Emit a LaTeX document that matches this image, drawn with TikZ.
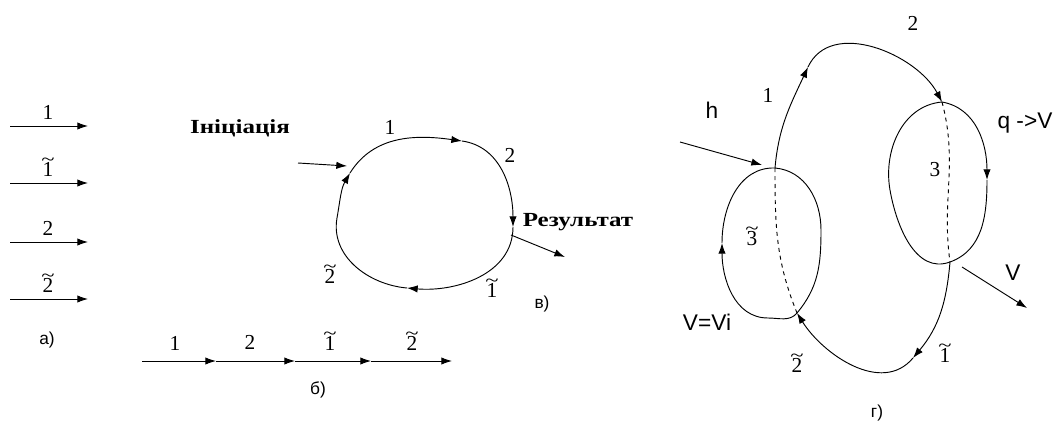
\documentclass[tikz,border=0pt]{standalone}
\usepackage{graphicx}
\usepackage{fontspec}
\setmainfont{Liberation Serif}
\setsansfont{Liberation Sans}
\usetikzlibrary{arrows.meta}

\newcommand{\tl}[1]{\leavevmode\ooalign{#1\cr\hidewidth\raisebox{0.5em}{\scalebox{1.15}[0.85]{\char"7E}}\hidewidth\cr}}
\newcommand{\wide}[1]{\scalebox{1.25}[1]{#1}}

\begin{document}
\begin{tikzpicture}[x=0.75pt, y=0.75pt,
    arr/.style={-{Latex[length=8pt,width=5.5pt]}, line width=0.7pt},
    ln/.style={line width=0.7pt},
    num/.style={font=\fontsize{16}{16}\selectfont, inner sep=0pt},
    partlbl/.style={font=\sffamily\fontsize{13}{13}\selectfont, inner sep=0pt},
    sans/.style={font=\sffamily\fontsize{17}{17}\selectfont, inner sep=0pt},
    word/.style={font=\bfseries\fontsize{15}{15}\selectfont, inner sep=0pt}]
    \useasboundingbox (0,0) rectangle (1064,430);

    % a) separate steps
    \foreach \i/\y/\t in {1/304/1, 2/247/\tl{1}, 3/188/2, 4/131/\tl{2}} {
        \coordinate (a\i s) at (10,\y);
        \coordinate (a\i e) at (88,\y);
        \draw[arr] (a\i s) -- (a\i e);
        \node[num, anchor=base] (a\i l) at (48,\y+7) {\t};
    }
    \node[partlbl] (capa) at (47,90) {а)};

    % b) chain
    \coordinate (b0) at (142,69);
    \coordinate (b1) at (216,69);
    \coordinate (b2) at (295,69);
    \coordinate (b3) at (371,69);
    \coordinate (b4) at (452,69);
    \draw[arr] (b0) -- (b1);
    \draw[arr] (b1) -- (b2);
    \draw[arr] (b2) -- (b3);
    \draw[arr] (b3) -- (b4);
    \node[num, anchor=base] (bl1) at (175,80) {1};
    \node[num, anchor=base] (bl2) at (250,81) {2};
    \node[num, anchor=base] (bl3) at (330,80) {\tl{1}};
    \node[num, anchor=base] (bl4) at (412,80) {\tl{2}};
    \node[partlbl] (capb) at (318,40) {б)};

    % v) cycle
    \coordinate (v1) at (350,257);
    \coordinate (v2) at (462,289);
    \coordinate (v3) at (513,203);
    \coordinate (v4) at (407,142);
    \coordinate (vin) at (298,267);
    \coordinate (vjn) at (347,264);
    \coordinate (vout) at (511,195);
    \coordinate (vres) at (565,173);
    \draw[arr] (v1) to[out=58, in=172] (v2);
    \draw[arr] (v2) to[out=-8, in=90] (v3);
    \draw[arr] (v3) to[out=-90, in=-5] (v4);
    \draw[arr] (v4) to[out=175, in=-100] (337,212) to[out=80, in=240] (v1);
    \draw[arr] (vin) -- (vjn);
    \draw[arr] (vout) -- (vres);
    \node[word] (init) at (240,302) {\wide{Ініціація}};
    \node[word] (res) at (578,208) {\wide{Результат}};
    \node[num] (vl1) at (390,303) {1};
    \node[num] (vl2) at (510,275) {2};
    \node[num] (vl3) at (492,140) {\tl{1}};
    \node[num] (vl4) at (330,154) {\tl{2}};
    \node[partlbl] (capv) at (542,126) {в)};

    % g) cycle with two loops
    \coordinate (ltop) at (775,262);
    \coordinate (lbot) at (797,117);
    \coordinate (rtop) at (942,328);
    \coordinate (rbot) at (950,168);
    \coordinate (g1) at (808,363);
    \coordinate (g3) at (913,72);
    \coordinate (larr) at (722,187);
    \coordinate (rarr) at (987,250);
    \coordinate (hin) at (680,288);
    \coordinate (hjn) at (762,265);
    \coordinate (vst) at (962,163);
    \coordinate (vend) at (1027,122);
    % big path
    \draw[arr] (ltop) to[out=85, in=245] (g1);
    \draw[arr] (g1) to[out=65, in=118] (rtop);
    \draw[arr] (rbot) to[out=-95, in=50] (g3);
    \draw[arr] (g3) to[out=-130, in=-58] (lbot);
    % right loop
    \draw[arr] (rtop) to[out=-10, in=90] (rarr);
    \draw[ln] (rarr) to[out=-90, in=20] (rbot)
        to[out=200, in=-80] (890,240) to[out=100, in=185] (rtop);
    \draw[ln, dashed] (rtop) to[out=-75, in=98] (rbot);
    % left loop
    \draw[ln] (ltop) to[out=-5, in=90] (821,200) to[out=-90, in=50] (lbot)
        to[out=230, in=0] (768,112);
    \draw[arr] (768,112) to[out=180, in=-90] (larr);
    \draw[ln] (larr) to[out=90, in=178] (ltop);
    \draw[ln, dashed] (ltop) to[out=-90, in=112] (lbot);
    % in and out
    \draw[arr] (hin) -- (hjn);
    \draw[arr] (vst) -- (vend);
    \node[sans] (hl) at (712,320) {h};
    \node[sans] (ql) at (1025,307) {q ->V};
    \node[sans] (vl) at (1013,157) {V};
    \node[sans] (vil) at (707,108) {V=Vi};
    \node[num] (gl1) at (768,335) {1};
    \node[num] (gl2) at (913,407) {2};
    \node[num] (gl3) at (935,260) {3};
    \node[num] (gl4) at (752,192) {\tl{3}};
    \node[num] (gl5) at (945,75) {\tl{1}};
    \node[num] (gl6) at (797,65) {\tl{2}};
    \node[partlbl] (capg) at (877,17) {г)};
\end{tikzpicture}
\end{document}
